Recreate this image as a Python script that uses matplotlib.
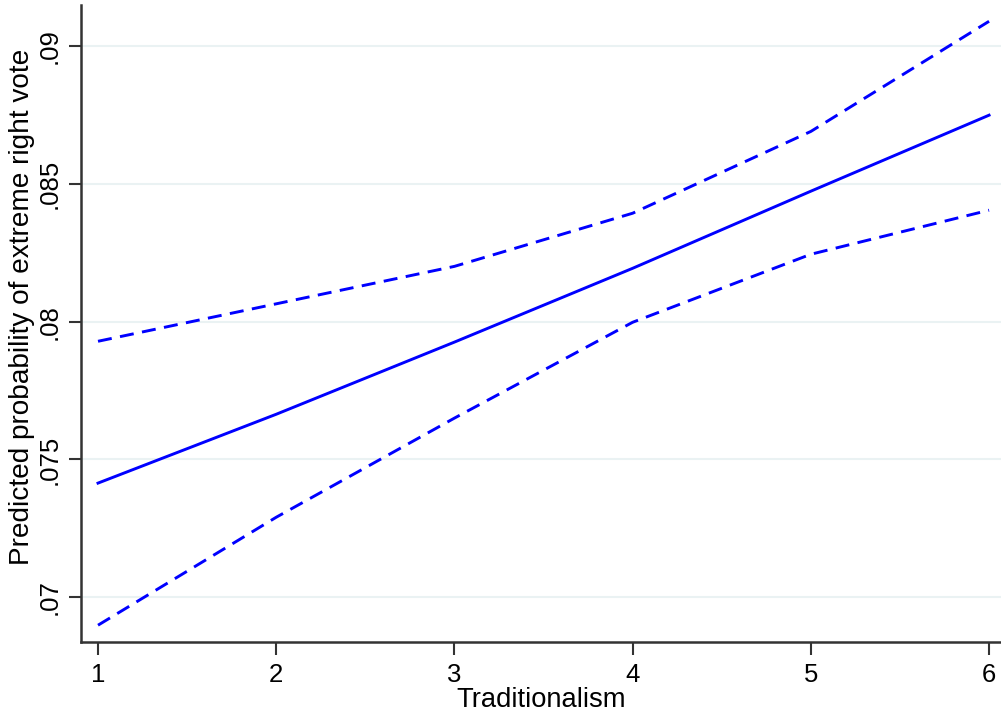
import numpy as np
import matplotlib.pyplot as plt

plt.rcParams['font.family'] = ['Liberation Sans', 'DejaVu Sans']

# predicted probabilities
tradition = [1, 2, 3, 4, 5, 6]
pred = [0.07414, 0.07664, 0.07926, 0.08194, 0.08474, 0.08750]
ci_upper = [0.07929, 0.08065, 0.08201, 0.08394, 0.08691, 0.09091]
ci_lower = [0.06898, 0.07290, 0.07650, 0.07998, 0.08245, 0.08405]

yticks = [0.07, 0.075, 0.08, 0.085, 0.09]
ytick_labels = ['.07', '.075', '.08', '.085', '.09']

fig = plt.figure(figsize=(10.01, 7.17), dpi=100)
ax = fig.add_axes([0.081, 0.1046, 0.919, 0.888])

blue = '#0000ff'
ax.plot(tradition, pred, color=blue, lw=2.1)
ax.plot(tradition, ci_upper, color=blue, lw=2.1, linestyle=(0, (4.8, 2.9)))
ax.plot(tradition, ci_lower, color=blue, lw=2.1, linestyle=(0, (4.8, 2.9)))

ax.set_xlim(0.905, 6.067)
ax.set_ylim(0.06837, 0.09149)

ax.set_xticks(tradition)
ax.set_yticks(yticks)
ax.set_yticklabels(ytick_labels, rotation=90, va='center')
ax.tick_params(axis='both', labelsize=18.5, length=9, width=1.5, color='#333333')
ax.tick_params(axis='y', pad=5)
ax.tick_params(axis='x', pad=6)

ax.grid(axis='y', color='#eaf2f3', lw=1.5)
ax.set_axisbelow(True)

for side in ['top', 'right']:
    ax.spines[side].set_visible(False)
for side in ['left', 'bottom']:
    ax.spines[side].set_linewidth(1.8)
    ax.spines[side].set_color('#333333')

ax.set_xlabel('Traditionalism', fontsize=19.7, labelpad=0)
ax.set_ylabel('Predicted probability of extreme right vote', fontsize=20.2, labelpad=2)
ax.yaxis.label.set_y(0.526)

fig.savefig('out.png', dpi=100)
